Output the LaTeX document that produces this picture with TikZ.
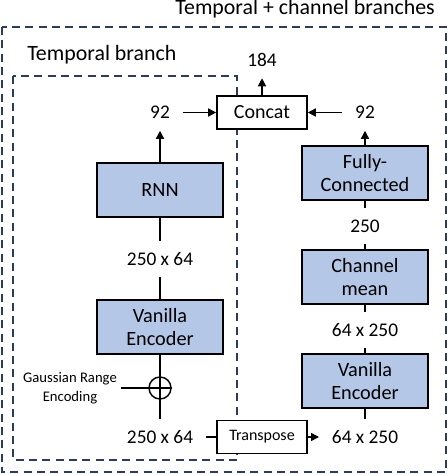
\documentclass[tikz,border=0pt]{standalone}
\usepackage{fontspec}
\setmainfont{Carlito}
\usetikzlibrary{arrows.meta}
\definecolor{bleuBoite}{HTML}{B4C7E7}
\definecolor{bleuTrait}{HTML}{2B3D5B}
\tikzset{
  boite/.style={draw,line width=1.4pt,fill=bleuBoite,minimum width=94pt,minimum height=40.5pt,align=center,font=\fontsize{15.2}{17.5}\selectfont},
  petite/.style={draw,line width=1.2pt,fill=white,minimum width=67.5pt,minimum height=25pt,font=\fontsize{15}{17}\selectfont},
  dim/.style={inner xsep=9.5pt,minimum height=27pt,font=\fontsize{14.5}{17}\selectfont},
  titre/.style={inner sep=0pt,font=\fontsize{16.4}{19}\selectfont},
  fleche/.style={line width=1.1pt,-{Triangle[length=6pt,width=6pt]}},
  trait/.style={line width=1.1pt},
  cadre/.style={draw=bleuTrait,line width=1.2pt,dash pattern=on 6pt off 4pt}
}
\begin{document}
\begin{tikzpicture}[x=0.75pt,y=-0.75pt]
\useasboundingbox (0,0) rectangle (448,474);

% Cadres
\draw[cadre] (2,27) rectangle (446,472);
\draw[cadre] (13,76) rectangle (237,460);
\node[titre,anchor=base east] (tTout) at (435,15) {Temporal + channel branches};
\node[titre,anchor=base west] (tTemp) at (27,61) {Temporal branch};

% Branche temporelle
\node[dim] (dimTbas) at (160,437) {250 x 64};
\node[circle,draw,line width=1.1pt,minimum size=16.5pt,inner sep=0pt] (somme) at (160,388) {};
\node[align=center,font=\fontsize{11}{14}\selectfont,inner xsep=3pt] (gauss) at (70,388) {Gaussian Range\\Encoding};
\node[boite] (encT) at (160,327) {Vanilla\\Encoder};
\node[dim] (dimTmil) at (160,259) {250 x 64};
\node[boite] (rnn) at (160,190) {RNN};
\node[dim] (dimThaut) at (160,112.5) {92};

% Concat
\node[petite] (concat) at (262,112.5) {Concat};
\node[dim] (dimSortie) at (262,60) {184};

% Branche canal
\node[petite,font=\fontsize{12}{14}\selectfont] (transp) at (262,437) {Transpose};
\node[dim] (dimCbas) at (365,437) {64 x 250};
\node[boite] (encC) at (365,381) {Vanilla\\Encoder};
\node[dim] (dimCmil) at (365,330) {64 x 250};
\node[boite] (moy) at (365,277) {Channel\\mean};
\node[dim] (dimCfc) at (365,226) {250};
\node[boite] (fc) at (365,173) {Fully-\\Connected};
\node[dim] (dimChaut) at (365,112.5) {92};

% Liaisons
\draw[trait] (encT.south) -- (dimTbas.north);
\draw[trait] (gauss.east) -- (somme.east);
\draw[trait] (encT) -- (dimTmil);
\draw[trait] (dimTmil) -- (rnn);
\draw[fleche] (rnn) -- (dimThaut);
\draw[fleche] (dimThaut) -- (concat);
\draw[fleche] (dimChaut) -- (concat);
\draw[fleche] (concat) -- (dimSortie);
\draw[trait] (dimTbas) -- (transp);
\draw[fleche] (transp) -- (dimCbas);
\draw[trait] (dimCbas) -- (encC);
\draw[trait] (encC) -- (dimCmil);
\draw[trait] (dimCmil) -- (moy);
\draw[trait] (moy) -- (dimCfc);
\draw[trait] (dimCfc) -- (fc);
\draw[fleche] (fc) -- (dimChaut);

\end{tikzpicture}
\end{document}
